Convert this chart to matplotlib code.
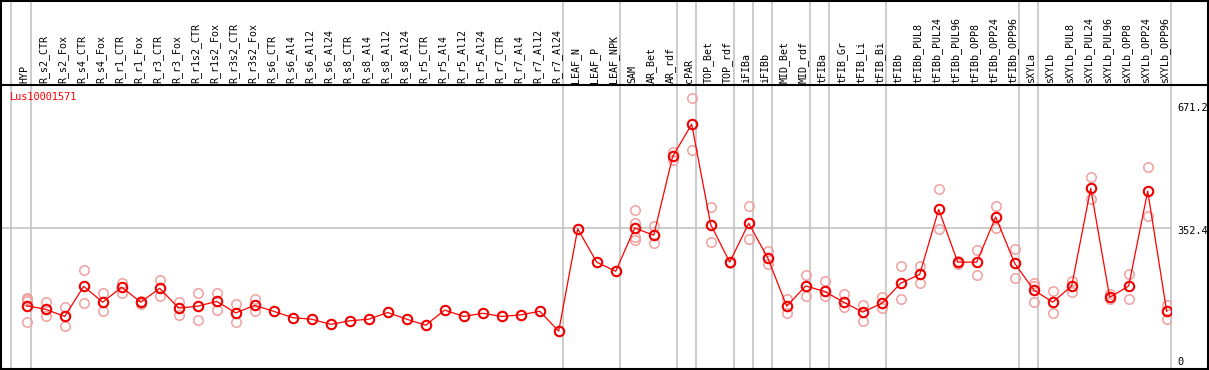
import numpy as np
import matplotlib
matplotlib.use("Agg")
import matplotlib.pyplot as plt
from matplotlib.lines import Line2D
import matplotlib.transforms as mtransforms

categories = ["HYP", "R_s2_CTR", "R_s2_Fox", "R_s4_CTR", "R_s4_Fox", "R_r1_CTR", "R_r1_Fox",
              "R_r3_CTR", "R_r3_Fox", "R_r1s2_CTR", "R_r1s2_Fox", "R_r3s2_CTR", "R_r3s2_Fox",
              "R_s6_CTR", "R_s6_Al4", "R_s6_Al12", "R_s6_Al24", "R_s8_CTR", "R_s8_Al4",
              "R_s8_Al12", "R_s8_Al24", "R_r5_CTR", "R_r5_Al4", "R_r5_Al12", "R_r5_Al24",
              "R_r7_CTR", "R_r7_Al4", "R_r7_Al12", "R_r7_Al24", "LEAF_N", "LEAF_P", "LEAF_NPK",
              "SAM", "AR_Bet", "AR_rdf", "cPAR", "TOP_Bet", "TOP_rdf", "iFIBa", "iFIBb",
              "MID_Bet", "MID_rdf", "tFIBa", "tFIB_Gr", "tFIB_Li", "tFIB_Bi", "tFIBb",
              "tFIBb_PUL8", "tFIBb_PUL24", "tFIBb_PUL96", "tFIBb_OPP8", "tFIBb_OPP24",
              "tFIBb_OPP96", "sXYLa", "sXYLb", "sXYLb_PUL8", "sXYLb_PUL24", "sXYLb_PUL96",
              "sXYLb_OPP8", "sXYLb_OPP24", "sXYLb_OPP96"]

means = [157, 148, 130, 206, 166, 204, 166, 201, 151, 156, 168, 139, 158, 143, 127, 123,
         110, 119, 123, 140, 123, 108, 146, 130, 138, 130, 134, 143, 93, 351, 267, 244,
         353, 335, 534, 615, 362, 267, 365, 278, 156, 207, 193, 166, 141, 163, 214, 236,
         400, 267, 267, 381, 264, 197, 166, 207, 453, 178, 207, 446, 143]

nan = np.nan
rep_a = [177, 166, 154, 246, 188, 214, 170, 222, 166, 188, 188, 161, 174] + [nan] * 19 + \
        [399, 359, 546, 680, 405, 268, 408, 295, 173, 235, 219, 187, 159, 180, 257, 257,
         451, 270, 298, 408, 300, 215, 193, 220, 482, 186, 237, 507, 159]
rep_b = [115, 130, 105, 164, 143, 190, 161, 181, 134, 120, 146, 115, 145] + [nan] * 19 + \
        [323, 315, 525, 549, 319, 264, 325, 262, 138, 182, 182, 155, 119, 151, 173, 215,
         351, 262, 235, 352, 227, 166, 139, 192, 426, 173, 173, 383, 124]
rep_c = [173] + [nan] * 31 + [365] + [nan] * 20 + [207] + [nan] * 7
rep_d = [169] + [nan] * 31 + [331] + [nan] * 28

group_ends = [-1, 0, 28, 31, 34, 35, 37, 38, 39, 41, 42, 45, 52, 53, 60]

gene = "Lus10001571"
right_labels = ["671.2", "352.4", "0"]
grid_value = 352.4

W, H = 1209, 370
fig = plt.figure(figsize=(W / 100, H / 100), dpi=100)

ax_left, ax_right = 1.0, 1170.7
ax_bottom_px, ax_top_px = 368.5, 85.0
ax = fig.add_axes([ax_left / W, (H - ax_bottom_px) / H,
                   (ax_right - ax_left) / W, (ax_bottom_px - ax_top_px) / H])

ax.set_xlim(-1.353, 60.21)
ax.set_ylim(-1.3, 714)
ax.set_xticks([])
ax.set_yticks([])
for s in ax.spines.values():
    s.set_visible(False)

x = np.arange(len(categories))
grey = "#c4c4c4"

# horizontal grid line
ax.axhline(grid_value, color=grey, lw=1.2, zorder=1)

# vertical group separators through the label area
ext = (ax_bottom_px - 0) / (ax_bottom_px - ax_top_px)
for g in group_ends:
    xv = g + 0.21 if g >= 0 else g + 0.16
    ax.axvline(xv, ymin=0, ymax=ext, color=grey, lw=1.2, clip_on=False, zorder=1)

rep_color = "#f0a0a0"
for rep in (rep_a, rep_b, rep_c, rep_d):
    ax.plot(x, rep, linestyle="none", marker="o", markersize=6.8,
            markerfacecolor="none", markeredgecolor=rep_color, markeredgewidth=1.1,
            zorder=2)

ax.plot(x, means, color="#ff0000", lw=0.9, zorder=3)
ax.plot(x, means, linestyle="none", marker="o", markersize=6.8,
        markerfacecolor="none", markeredgecolor="#ee0000", markeredgewidth=1.5, zorder=4)

# category labels
trans = mtransforms.blended_transform_factory(ax.transData, ax.transAxes)
for i, c in enumerate(categories):
    ax.annotate(c, xy=(i - 0.12, 1.0), xycoords=trans, xytext=(0, 1.6),
                textcoords="offset points", rotation=90, ha="center", va="bottom",
                fontsize=7.2, family="DejaVu Sans Mono", color="black")

# gene label
fig.text(9.5 / W, (H - 97) / H, gene, color="#ff0000", fontsize=7.4,
         family="DejaVu Sans Mono", ha="left", va="center")

# right value labels
for lab, ypx in zip(right_labels, [108, 231, 362]):
    fig.text(1177 / W, (H - ypx) / H, lab, fontsize=7.4, family="DejaVu Sans Mono",
             ha="left", va="center", color="black")

# frame lines
def hline(ypx, x0=0, x1=W, **kw):
    fig.add_artist(Line2D([x0 / W, x1 / W], [(H - ypx) / H] * 2, transform=fig.transFigure, **kw))

def vline(xpx, y0=0, y1=H, **kw):
    fig.add_artist(Line2D([xpx / W] * 2, [(H - y0) / H, (H - y1) / H], transform=fig.transFigure, **kw))

hline(0.5, color="black", lw=1.5)
hline(85.0, color="black", lw=1.5)
hline(368.5, color="black", lw=1.5)
vline(0.7, 0, 369, color="black", lw=1.5)
vline(1208.3, 0, 369, color="black", lw=1.5)

fig.savefig("out.png", dpi=100, facecolor="white")
